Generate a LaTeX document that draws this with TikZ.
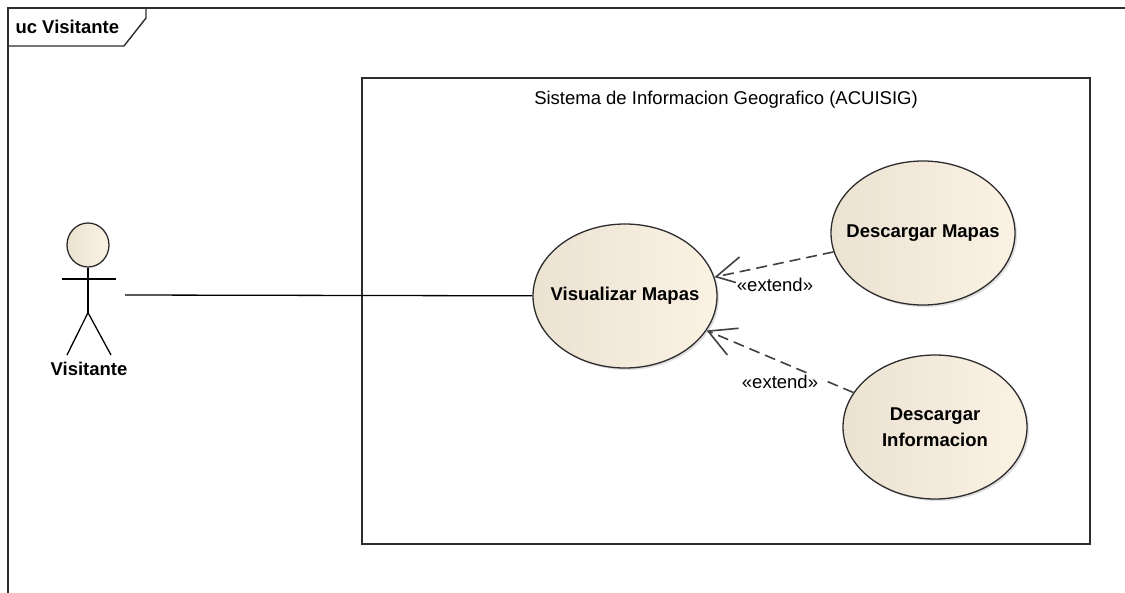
\documentclass[tikz,border=0pt]{standalone}
\usepackage{fontspec}
\setmainfont{Liberation Sans}
\usetikzlibrary{positioning}
\usetikzlibrary{shapes.geometric}
\usetikzlibrary{arrows.meta}
\usetikzlibrary{shadows}

\definecolor{ucleft}{RGB}{235,226,210}
\definecolor{ucright}{RGB}{251,242,228}
\definecolor{ucline}{RGB}{45,45,45}

\begin{document}
\begin{tikzpicture}[x=1pt,y=-1pt,every node/.style={font=\fontsize{18.5}{26}\selectfont},
    frame/.style={draw=ucline,line width=1.4pt},
    usecase/.style={ellipse,draw=ucline,line width=1.3pt,left color=ucleft,right color=ucright,inner xsep=-20pt,inner ysep=0pt,minimum width=184pt,minimum height=144pt,align=center,font=\fontsize{18.5}{26}\selectfont\bfseries,drop shadow={opacity=0.25,shadow xshift=2pt,shadow yshift=-2pt}},
    extend/.style={draw=black!75,line width=1.6pt,dash pattern=on 11pt off 6pt,-{Straight Barb[length=27pt,width=29pt]}},
    stereo/.style={fill=white,inner sep=1pt}]
    \useasboundingbox (0,0) rectangle (1125,592);
    \clip (0,0) rectangle (1125,592);
    % frame and system boundary
    \draw[frame] (8,600) -- (8,8) -- (1140,8);
    \draw[frame] (8,46) -- (124,46) -- (146,18) -- (146,8);
    \node[anchor=west,font=\fontsize{18.5}{26}\selectfont\bfseries] (uc) at (12,27) {uc Visitante};
    \draw[frame] (362,78) rectangle (1090,544);
    \node (sys) at (726,100) {Sistema de Informacion Geografico (ACUISIG)};
    % actor
    \node[ellipse,draw=ucline,line width=1.3pt,left color=ucleft,right color=ucright,minimum width=42pt,minimum height=44pt,inner sep=0pt] (head) at (88,245) {};
    \draw[line width=1.3pt] (head.south) -- ++(0,45) coordinate (hip);
    \draw[line width=1.3pt] (62,279) -- (116,279);
    \draw[line width=1.3pt] (67,355) -- (hip) -- (111,355);
    \node[font=\fontsize{18.5}{26}\selectfont\bfseries] (visitante) at (89,369) {Visitante};
    \coordinate (hand) at (125,295);
    % use cases
    \node[usecase] (vis) at (625,296) {Visualizar Mapas};
    \node[usecase] (dmap) at (923,233) {Descargar Mapas};
    \node[usecase] (dinf) at (935,427) {Descargar\\Informacion};
    \draw[line width=1.3pt] (hand) -- (vis);
    \draw[extend] (dmap) -- (vis);
    \draw[extend] (dinf) -- (vis);
    \node[stereo] (ext1) at (775,285) {«extend»};
    \node[stereo,inner xsep=4pt] (ext2) at (780,382) {«extend»};
\end{tikzpicture}
\end{document}
